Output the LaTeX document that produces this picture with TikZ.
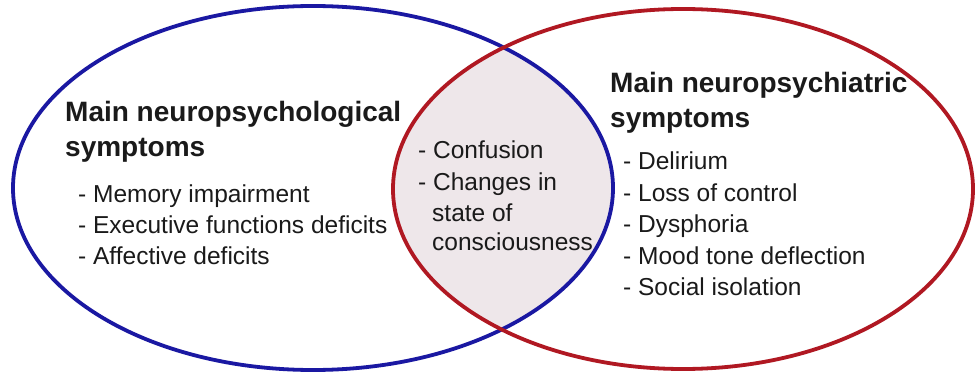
\documentclass[tikz,border=0pt]{standalone}
\usepackage{fontspec}
\setmainfont{Liberation Sans}
\definecolor{ringblue}{RGB}{26,24,162}
\definecolor{ringred}{RGB}{176,24,34}
\definecolor{lensfill}{RGB}{238,231,234}
\definecolor{inkgray}{RGB}{26,26,26}
\newcommand{\headfont}{\fontsize{28}{34}\selectfont\bfseries}
\newcommand{\itemfont}{\fontsize{24.5}{30}\selectfont}

\begin{document}
\begin{tikzpicture}[x=1pt, y=-1pt, ring/.style={line width=3.8pt}, head/.style={anchor=base west, inner sep=0pt, font=\headfont, text=inkgray}, item/.style={anchor=base west, inner sep=0pt, font=\itemfont, text=inkgray}]

\useasboundingbox[fill=white] (0,0) rectangle (976,374);

% shared part of the two sets
\begin{scope}
\clip (313,188) ellipse [x radius=300pt, y radius=182pt];
\fill[lensfill] (683,189) ellipse [x radius=290pt, y radius=180pt];
\end{scope}
\draw[ring, ringblue] (313,188) ellipse [x radius=300pt, y radius=182pt];
\draw[ring, ringred] (683,189) ellipse [x radius=290pt, y radius=180pt];

% left set
\node[head] (lefthead1) at (65,121.5) {Main neuropsychological};
\node[head] (lefthead2) at (65,157) {symptoms};
\foreach \txt [count=\i] in {Memory impairment, Executive functions deficits, Affective deficits}
  \node[item] (leftitem\i) at (78,{202+31*(\i-1)}) {- \txt};

% shared items
\node[item] (mid1) at (418,158.5) {- Confusion};
\node[item] (mid2) at (418,190) {- Changes in};
\node[item] (mid3) at (432,221) {state of};
\node[item] (mid4) at (432,250.5) {consciousness};

% right set
\node[head] (righthead1) at (610,93) {Main neuropsychiatric};
\node[head] (righthead2) at (610,128) {symptoms};
\foreach \txt [count=\i] in {Delirium, Loss of control, Dysphoria, Mood tone deflection, Social isolation}
  \node[item] (rightitem\i) at (623,{169.5+31.5*(\i-1)}) {- \txt};

\end{tikzpicture}
\end{document}
